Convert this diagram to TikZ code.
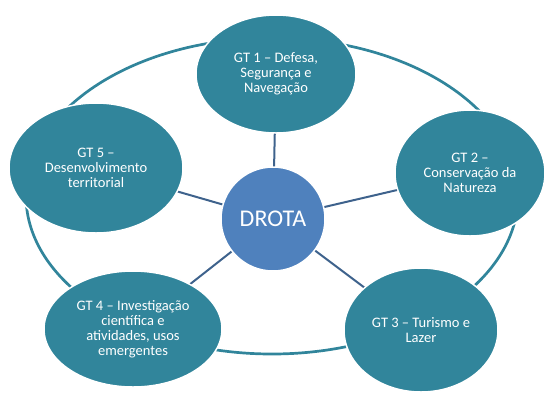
\documentclass[tikz,border=0pt]{standalone}
\usepackage{fontspec}
\setmainfont{Carlito}
\usetikzlibrary{shapes.geometric,backgrounds}
\definecolor{gtfill}{RGB}{49,133,155}
\definecolor{hubfill}{RGB}{79,129,189}
\definecolor{ringcol}{RGB}{49,133,155}
\definecolor{spokecol}{RGB}{62,98,140}
\begin{document}
\begin{tikzpicture}[x=1pt,y=-1pt,
  gt/.style={ellipse, fill=gtfill, draw=white, line width=1.5pt, inner sep=0pt,
    text=white, align=center, font=\fontsize{14.5}{15}\selectfont},
  hub/.style={circle, fill=hubfill, draw=white, line width=1.5pt, inner sep=0pt,
    minimum size=104pt, text=white, font=\fontsize{24}{28}\selectfont},
  ring/.style={draw=ringcol, line width=2.7pt},
  spoke/.style={draw=spokecol, line width=2pt}]
\useasboundingbox (0,0) rectangle (546,392);

% centre hub
\node[hub] (hub) at (273,219) {DROTA};

% working groups around the hub
\node[gt, minimum width=160pt, minimum height=118pt] (gt1) at (276,74)
  {GT 1 – Defesa,\\Segurança e\\Navegação};
\node[gt, minimum width=150pt, minimum height=126pt] (gt2) at (470,173)
  {GT 2 –\\Conservação da\\Natureza};
\node[gt, minimum width=154pt, minimum height=124pt] (gt3) at (421,330)
  {GT 3 – Turismo e\\Lazer};
\node[gt, minimum width=178pt, minimum height=116pt] (gt4) at (133,329)
  {GT 4 – Investigação\\científica e\\atividades, usos\\emergentes};
\node[gt, minimum width=174pt, minimum height=130pt] (gt5) at (96,168)
  {GT 5 –\\Desenvolvimento\\territorial};

\coordinate (ringc) at (272,196);

\begin{pgfonlayer}{background}
  % cycle ring linking the groups
  \draw[ring] (ringc) ellipse [x radius=246, y radius=158];
  % spokes from the hub
  \foreach \g in {gt1,gt2,gt3,gt4,gt5}
    \draw[spoke] (hub.center) -- (\g.center);
\end{pgfonlayer}
\end{tikzpicture}
\end{document}
